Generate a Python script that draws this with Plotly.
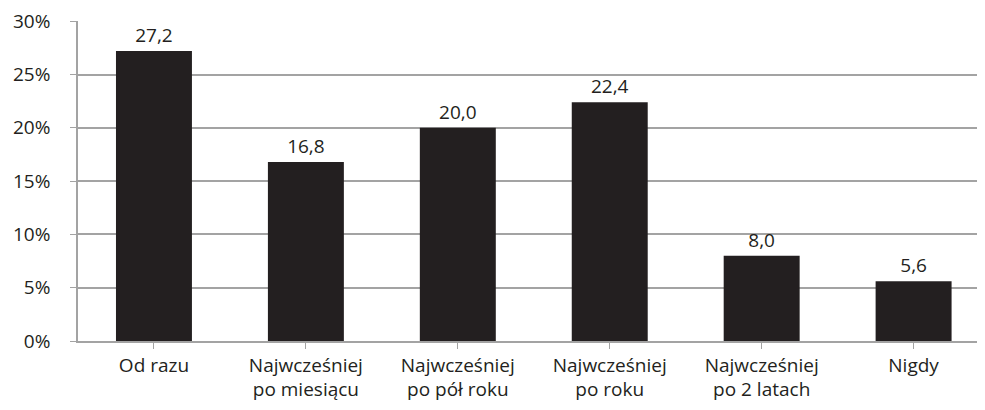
import plotly.graph_objects as go

categories = ["Od razu", "Najwcześniej<br>po miesiącu", "Najwcześniej<br>po pół roku",
              "Najwcześniej<br>po roku", "Najwcześniej<br>po 2 latach", "Nigdy"]
values = [27.2, 16.8, 20.0, 22.4, 8.0, 5.6]
y_ticks = [0, 5, 10, 15, 20, 25, 30]
y_tick_labels = ["0%", "5%", "10%", "15%", "20%", "25%", "30%"]

labels = [f"{v:.1f}".replace(".", ",") for v in values]
font_family = "Open Sans, Liberation Sans, sans-serif"
grid = "#a3a3a3"
ink = "#231f20"
fs = 19

fig = go.Figure(go.Bar(
    x=list(range(len(categories))),
    y=values,
    text=labels,
    textposition="outside",
    textfont=dict(family=font_family, size=fs, color=ink),
    marker=dict(color=ink, line=dict(width=0)),
    width=0.5,
    cliponaxis=False,
))

fig.update_layout(
    width=977, height=394,
    margin=dict(l=70, r=0, t=13, b=59),
    plot_bgcolor="white", paper_bgcolor="white",
    showlegend=False,
    font=dict(family=font_family, size=fs, color=ink),
    xaxis=dict(
        tickmode="array",
        tickvals=list(range(len(categories))),
        ticktext=categories,
        range=[-0.5, 5.47],
        showgrid=False,
        showline=True, linecolor=grid, linewidth=1.5,
        ticks="outside", tickson="boundaries", ticklen=6, tickcolor=grid,
        tickfont=dict(family=font_family, size=fs, color=ink),
    ),
    yaxis=dict(
        range=[0, 30.02],
        tickmode="array",
        tickvals=y_ticks,
        ticktext=y_tick_labels,
        ticklabeloverflow="allow",
        ticklabelstandoff=16,
        showgrid=True, gridcolor=grid, gridwidth=1.5,
        showline=True, linecolor=grid, linewidth=1.5,
        ticks="outside", ticklen=6, tickcolor=grid,
        tickfont=dict(family=font_family, size=fs, color=ink),
        zeroline=False,
    ),
)

fig.write_html("out.html")
